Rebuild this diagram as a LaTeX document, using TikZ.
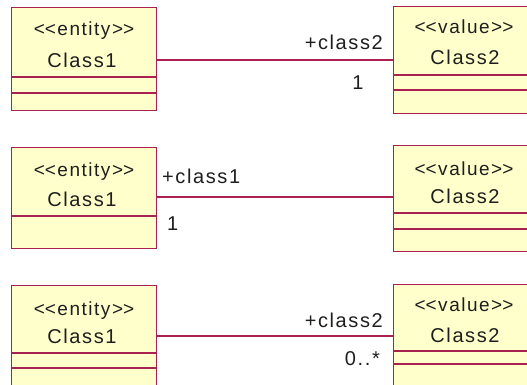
\documentclass[tikz,border=0pt]{standalone}
\usepackage{fontspec}
\newfontfamily\umlfont[LetterSpace=8]{Liberation Sans}
\definecolor{umlred}{RGB}{170,32,82}
\definecolor{umlfill}{RGB}{255,255,204}
\definecolor{umltext}{RGB}{30,30,30}
% guillemets written as two separate angle brackets
\newcommand\umlopen{<\kern0pt<}
\newcommand\umlclose{>\kern0pt>}
\begin{document}
\begin{tikzpicture}[x=1pt,y=-1pt,
  classbox/.style={draw=umlred, fill=umlfill, line width=1.2pt, rectangle,
    inner sep=0pt, anchor=north west, minimum width=145pt},
  divider/.style={draw=umlred, line width=1.2pt},
  assoc/.style={draw=umlred, line width=1.2pt},
  stereo/.style={font=\umlfont\fontsize{19}{19}\selectfont, text=umltext,
    inner sep=0pt, anchor=base},
  cname/.style={font=\umlfont\fontsize{20}{20}\selectfont, text=umltext,
    inner sep=0pt, anchor=base},
  role/.style={font=\umlfont\fontsize{20}{20}\selectfont, text=umltext,
    inner sep=0pt}]
\useasboundingbox (0,0) rectangle (527,385);
\clip (0,0) rectangle (527,385);

% ---- first association: role and multiplicity at the value end
\node[classbox, minimum height=103pt] (a1) at (11,7) {};
\node[classbox, minimum height=107pt] (b1) at (393,6) {};
\node[stereo] (a1s) at (84,36) {\umlopen entity\umlclose};
\node[cname]  (a1n) at (82,68) {Class1};
\node[stereo] (b1s) at (464,34) {\umlopen value\umlclose};
\node[cname]  (b1n) at (465,65) {Class2};
\draw[divider] (a1.west |- 0,77) -- (a1.east |- 0,77);
\draw[divider] (a1.west |- 0,93) -- (a1.east |- 0,93);
\draw[divider] (b1.west |- 0,75) -- (b1.east |- 0,75);
\draw[divider] (b1.west |- 0,90) -- (b1.east |- 0,90);
\draw[assoc] (a1.east |- 0,60) -- (b1.west |- 0,60);
\node[role, anchor=base east] (r1) at (383,50) {+class2};
\node[role, anchor=base] (m1) at (358,90) {1};

% ---- second association: role and multiplicity at the entity end
\node[classbox, minimum height=101pt] (a2) at (11,147) {};
\node[classbox, minimum height=106pt] (b2) at (393,145) {};
\node[stereo] (a2s) at (84,176) {\umlopen entity\umlclose};
\node[cname]  (a2n) at (82,206) {Class1};
\node[stereo] (b2s) at (464,175) {\umlopen value\umlclose};
\node[cname]  (b2n) at (465,203) {Class2};
\draw[divider] (a2.west |- 0,216) -- (a2.east |- 0,216);
\draw[divider] (b2.west |- 0,213) -- (b2.east |- 0,213);
\draw[divider] (b2.west |- 0,229) -- (b2.east |- 0,229);
\draw[assoc] (a2.east |- 0,197) -- (b2.west |- 0,197);
\node[role, anchor=base west] (r2) at (162,183) {+class1};
\node[role, anchor=base west] (m2) at (167,230) {1};

% ---- third association: many-valued end
\node[classbox, minimum height=130pt] (a3) at (11,285) {};
\node[classbox, minimum height=130pt] (b3) at (393,284) {};
\node[stereo] (a3s) at (84,315) {\umlopen entity\umlclose};
\node[cname]  (a3n) at (82,343) {Class1};
\node[stereo] (b3s) at (464,311) {\umlopen value\umlclose};
\node[cname]  (b3n) at (465,342) {Class2};
\draw[divider] (a3.west |- 0,353) -- (a3.east |- 0,353);
\draw[divider] (a3.west |- 0,368) -- (a3.east |- 0,368);
\draw[divider] (b3.west |- 0,351) -- (b3.east |- 0,351);
\draw[divider] (b3.west |- 0,364) -- (b3.east |- 0,364);
\draw[assoc] (a3.east |- 0,336) -- (b3.west |- 0,336);
\node[role, anchor=base east] (r3) at (383,327) {+class2};
\node[role, anchor=base east] (m3) at (380,365) {0..*};
\end{tikzpicture}
\end{document}
